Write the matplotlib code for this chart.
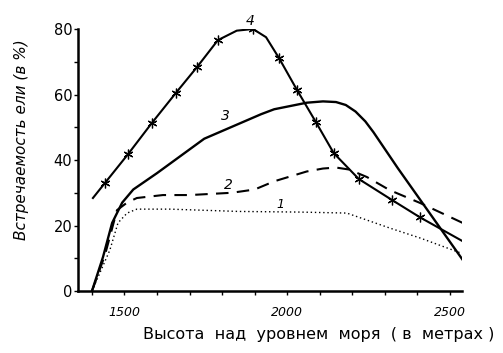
import matplotlib
matplotlib.use('Agg')
import matplotlib.pyplot as plt

# --- data (altitude m, share of spruce %) ---
alt1 = [1400, 1455, 1480, 1508, 1538, 1640, 1850, 2040, 2183, 2316, 2408, 2550]
val1 = [0, 12.5, 20.8, 23.8, 25.0, 25.0, 24.3, 24.1, 23.8, 19.2, 16.2, 11]

alt2 = [1400, 1440, 1477, 1508, 1538, 1618, 1700, 1830, 1900, 1960, 2060, 2110, 2150,
        2190, 2245, 2315, 2408, 2552]
val2 = [0, 11, 24.7, 27, 28.4, 29.3, 29.3, 30.0, 31.0, 33.5, 36.5, 37.4, 37.7,
        37.1, 34.8, 30.8, 26.9, 20.2]

alt3 = [1400, 1434, 1462, 1493, 1527, 1600, 1745, 1850, 1920, 1960, 2060, 2110, 2150,
        2180, 2210, 2240, 2265, 2340, 2550]
val3 = [0, 10.4, 20.8, 27, 31, 36, 46.5, 51, 54, 55.5, 57.5, 57.9, 57.7,
        56.8, 54.8, 51.8, 48.5, 37.5, 8]

alt4 = [1403, 1440, 1511, 1584, 1658, 1723, 1787, 1845, 1895, 1935, 1975, 2030, 2088,
        2143, 2220, 2322, 2408, 2552]
val4 = [28.4, 33, 41.8, 51.3, 60.5, 68.4, 76.6, 79.5, 80, 77.5, 71.1, 61.4, 51.6,
        42.1, 34.2, 27.8, 22.5, 14.5]
marks4 = [1, 2, 3, 4, 5, 6, 8, 10, 11, 12, 13, 14, 15, 16, 17]

xticks_major = [1500, 2000, 2500]
yticks_major = [0, 20, 40, 60, 80]

fig = plt.figure(figsize=(5.03, 3.53), dpi=100)
ax = fig.add_axes([0.155, 0.1756, 0.7634, 0.7422])

ax.plot(alt1, val1, color='black', lw=1.0, ls=(0, (1, 2)))
ax.plot(alt2, val2, color='black', lw=1.5, ls=(0, (6, 4)))
ax.plot(alt3, val3, color='black', lw=1.7)
ax.plot(alt4, val4, color='black', lw=1.5, marker=(6, 2, 0), ms=7, mew=0.9,
        markevery=marks4)

# curve numbers
ax.text(1885, 82.5, '4', fontsize=10, style='italic', ha='center', va='center')
ax.text(1810, 53.5, '3', fontsize=10, style='italic', ha='center', va='center')
ax.text(1820, 32.5, '2', fontsize=10, style='italic', ha='center', va='center')
ax.text(1980, 26.5, '1', fontsize=9, style='italic', ha='center', va='center')

ax.set_xlim(1357, 2537)
ax.set_ylim(0, 80)
ax.spines['top'].set_visible(False)
ax.spines['right'].set_visible(False)
ax.spines['left'].set_linewidth(1.8)
ax.spines['bottom'].set_linewidth(1.8)

ax.set_xticks(range(1400, 2501, 100), minor=True)
ax.set_xticks(xticks_major)
ax.set_xticklabels([str(v) for v in xticks_major], fontsize=9, style='italic')
ax.set_yticks(range(0, 81, 10), minor=True)
ax.set_yticks(yticks_major)
ax.set_yticklabels([str(v) for v in yticks_major], fontsize=10.5)
ax.tick_params(axis='x', which='both', direction='out', length=3, width=1, pad=8)
ax.tick_params(axis='y', which='both', direction='out', length=3, width=1, pad=1)

fig.text(22 / 503, 1 - 140 / 353, 'Встречаемость ели (в %)', rotation=90,
         fontsize=11, ha='center', va='center', style='italic')
fig.text(319 / 503, 1 - 334 / 353, 'Высота  над  уровнем  моря  ( в  метрах )',
         fontsize=11.5, ha='center', va='center')

fig.savefig('out.png', dpi=100)
